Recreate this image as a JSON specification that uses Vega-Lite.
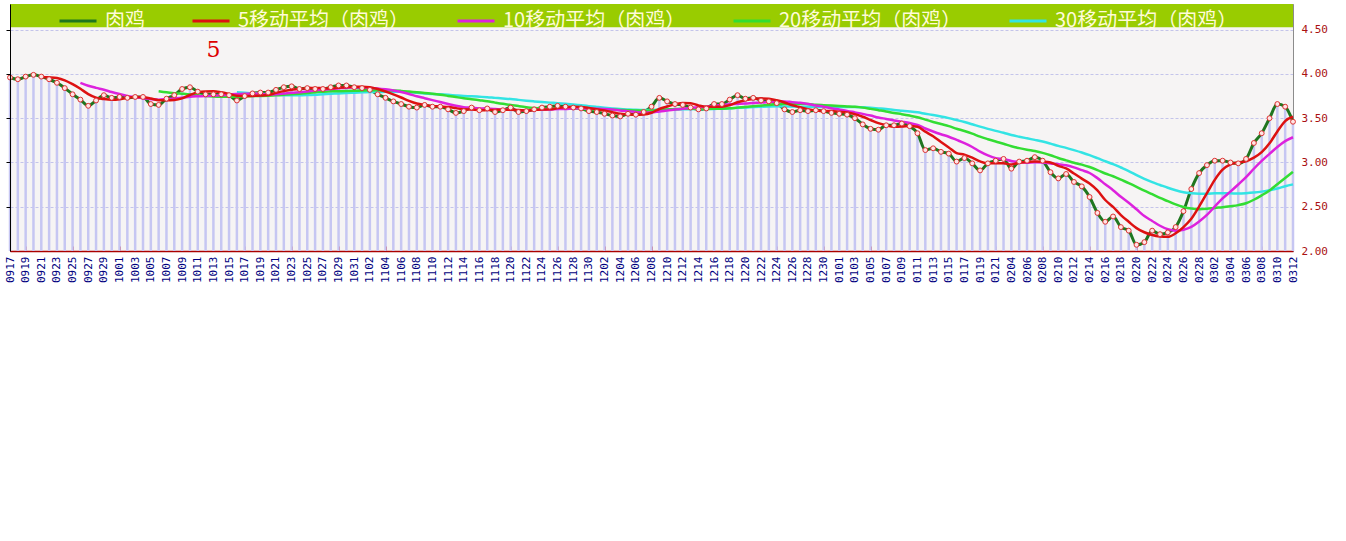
{
  "$schema": "https://vega.github.io/schema/vega-lite/v6.json",
  "width": 1283,
  "height": 247,
  "padding": {"left": 4, "top": 1, "right": 5, "bottom": 5},
  "background": "white",
  "datasets": {
    "s": [
      {"d":"0917","v":3.96},{"d":"0918","v":3.94},{"d":"0919","v":3.97},{"d":"0920","v":3.99},{"d":"0921","v":3.97},{"d":"0922","v":3.94},{"d":"0923","v":3.90},{"d":"0924","v":3.84},{"d":"0925","v":3.77},{"d":"0926","v":3.71},{"d":"0927","v":3.64},{"d":"0928","v":3.70},{"d":"0929","v":3.76},{"d":"0930","v":3.73},
      {"d":"1001","v":3.74},{"d":"1002","v":3.73},{"d":"1003","v":3.74},{"d":"1004","v":3.74},{"d":"1005","v":3.66},{"d":"1006","v":3.65},{"d":"1007","v":3.72},{"d":"1008","v":3.76},{"d":"1009","v":3.83},{"d":"1010","v":3.85},{"d":"1011","v":3.80},{"d":"1012","v":3.77},{"d":"1013","v":3.77},{"d":"1014","v":3.77},{"d":"1015","v":3.76},{"d":"1016","v":3.70},{"d":"1017","v":3.75},{"d":"1018","v":3.78},{"d":"1019","v":3.79},{"d":"1020","v":3.79},{"d":"1021","v":3.82},{"d":"1022","v":3.85},{"d":"1023","v":3.86},{"d":"1024","v":3.83},{"d":"1025","v":3.84},{"d":"1026","v":3.83},{"d":"1027","v":3.83},{"d":"1028","v":3.85},{"d":"1029","v":3.87},{"d":"1030","v":3.87},{"d":"1031","v":3.85},
      {"d":"1101","v":3.84},{"d":"1102","v":3.82},{"d":"1103","v":3.77},{"d":"1104","v":3.73},{"d":"1105","v":3.69},{"d":"1106","v":3.66},{"d":"1107","v":3.63},{"d":"1108","v":3.62},{"d":"1109","v":3.65},{"d":"1110","v":3.63},{"d":"1111","v":3.63},{"d":"1112","v":3.60},{"d":"1113","v":3.56},{"d":"1114","v":3.58},{"d":"1115","v":3.62},{"d":"1116","v":3.59},{"d":"1117","v":3.61},{"d":"1118","v":3.57},{"d":"1119","v":3.59},{"d":"1120","v":3.62},{"d":"1121","v":3.57},{"d":"1122","v":3.58},{"d":"1123","v":3.60},{"d":"1124","v":3.62},{"d":"1125","v":3.63},{"d":"1126","v":3.64},{"d":"1127","v":3.63},{"d":"1128","v":3.62},{"d":"1129","v":3.61},{"d":"1130","v":3.58},
      {"d":"1201","v":3.57},{"d":"1202","v":3.55},{"d":"1203","v":3.53},{"d":"1204","v":3.52},{"d":"1205","v":3.55},{"d":"1206","v":3.54},{"d":"1207","v":3.57},{"d":"1208","v":3.63},{"d":"1209","v":3.73},{"d":"1210","v":3.69},{"d":"1211","v":3.66},{"d":"1212","v":3.65},{"d":"1213","v":3.62},{"d":"1214","v":3.60},{"d":"1215","v":3.61},{"d":"1216","v":3.66},{"d":"1217","v":3.66},{"d":"1218","v":3.71},{"d":"1219","v":3.76},{"d":"1220","v":3.72},{"d":"1221","v":3.73},{"d":"1222","v":3.70},{"d":"1223","v":3.69},{"d":"1224","v":3.67},{"d":"1225","v":3.60},{"d":"1226","v":3.57},{"d":"1227","v":3.59},{"d":"1228","v":3.58},{"d":"1229","v":3.59},{"d":"1230","v":3.58},{"d":"1231","v":3.56},
      {"d":"0101","v":3.55},{"d":"0102","v":3.54},{"d":"0103","v":3.50},{"d":"0104","v":3.43},{"d":"0105","v":3.38},{"d":"0106","v":3.37},{"d":"0107","v":3.42},{"d":"0108","v":3.42},{"d":"0109","v":3.44},{"d":"0110","v":3.41},{"d":"0111","v":3.33},{"d":"0112","v":3.14},{"d":"0113","v":3.16},{"d":"0114","v":3.12},{"d":"0115","v":3.10},{"d":"0116","v":3.01},{"d":"0117","v":3.05},{"d":"0118","v":2.99},{"d":"0119","v":2.91},{"d":"0120","v":2.99},{"d":"0121","v":3.02},{"d":"0122","v":3.04},
      {"d":"0204","v":2.93},{"d":"0205","v":3.01},{"d":"0206","v":3.02},{"d":"0207","v":3.06},{"d":"0208","v":3.02},{"d":"0209","v":2.89},{"d":"0210","v":2.82},{"d":"0211","v":2.87},{"d":"0212","v":2.78},{"d":"0213","v":2.73},{"d":"0214","v":2.61},{"d":"0215","v":2.43},{"d":"0216","v":2.33},{"d":"0217","v":2.39},{"d":"0218","v":2.27},{"d":"0219","v":2.23},{"d":"0220","v":2.07},{"d":"0221","v":2.10},{"d":"0222","v":2.23},{"d":"0223","v":2.19},{"d":"0224","v":2.21},{"d":"0225","v":2.27},{"d":"0226","v":2.45},{"d":"0227","v":2.70},{"d":"0228","v":2.88},
      {"d":"0301","v":2.97},{"d":"0302","v":3.02},{"d":"0303","v":3.02},{"d":"0304","v":3.00},{"d":"0305","v":2.99},{"d":"0306","v":3.04},{"d":"0307","v":3.22},{"d":"0308","v":3.33},{"d":"0309","v":3.50},{"d":"0310","v":3.66},{"d":"0311","v":3.63},{"d":"0312","v":3.46}
    ]
  },
  "data": {"name": "s"},
  "config": {
    "view": {"fill": "#f6f4f4", "stroke": "#8c8c8c", "strokeWidth": 1},
    "axis": {"labelFont": "DejaVu Sans Mono", "labelFontSize": 11, "title": null},
    "axisX": {"labelAngle": -90, "labelFontSize": 11, "labelColor": "#000080", "labelOverlap": false, "labelPadding": 10, "domainColor": "#aa0000", "domainWidth": 1.5, "tickColor": "#cc0000", "tickSize": -5, "tickWidth": 1, "grid": false, "zindex": 1}
  },
  "resolve": {"axis": {"y": "independent"}},
  "layer": [
    {
      "mark": {"type": "rule", "color": "#c6c6f2", "strokeWidth": 2.5},
      "encoding": {
        "x": {
          "field": "d", "type": "ordinal",
          "scale": {"type": "point", "padding": 0, "domain": ["0917","0918","0919","0920","0921","0922","0923","0924","0925","0926","0927","0928","0929","0930","1001","1002","1003","1004","1005","1006","1007","1008","1009","1010","1011","1012","1013","1014","1015","1016","1017","1018","1019","1020","1021","1022","1023","1024","1025","1026","1027","1028","1029","1030","1031","1101","1102","1103","1104","1105","1106","1107","1108","1109","1110","1111","1112","1113","1114","1115","1116","1117","1118","1119","1120","1121","1122","1123","1124","1125","1126","1127","1128","1129","1130","1201","1202","1203","1204","1205","1206","1207","1208","1209","1210","1211","1212","1213","1214","1215","1216","1217","1218","1219","1220","1221","1222","1223","1224","1225","1226","1227","1228","1229","1230","1231","0101","0102","0103","0104","0105","0106","0107","0108","0109","0110","0111","0112","0113","0114","0115","0116","0117","0118","0119","0120","0121","0122","0204","0205","0206","0207","0208","0209","0210","0211","0212","0213","0214","0215","0216","0217","0218","0219","0220","0221","0222","0223","0224","0225","0226","0227","0228","0301","0302","0303","0304","0305","0306","0307","0308","0309","0310","0311","0312"]},
          "axis": {
            "values": ["0917","0919","0921","0923","0925","0927","0929","1001","1003","1005","1007","1009","1011","1013","1015","1017","1019","1021","1023","1025","1027","1029","1031","1102","1104","1106","1108","1110","1112","1114","1116","1118","1120","1122","1124","1126","1128","1130","1202","1204","1206","1208","1210","1212","1214","1216","1218","1220","1222","1224","1226","1228","1230","0101","0103","0105","0107","0109","0111","0113","0115","0117","0119","0121","0204","0206","0208","0210","0212","0214","0216","0218","0220","0222","0224","0226","0228","0302","0304","0306","0308","0310","0312"],
            "labelAngle": -90, "title": null
          }
        },
        "y": {
          "field": "v", "type": "quantitative",
          "scale": {"domain": [2, 4.79], "nice": false, "zero": false},
          "axis": {"orient": "left", "labels": false, "grid": false, "ticks": true, "tickSize": 4, "tickColor": "#000000", "domainColor": "#000000", "values": [2.5, 3, 3.5, 4, 4.5], "title": null, "zindex": 1}
        },
        "y2": {"datum": 2}
      }
    },
    {
      "data": {"values": [{}]},
      "mark": {"type": "rect", "color": "#99cc00"},
      "encoding": {
        "y": {"datum": 4.526, "type": "quantitative", "axis": null},
        "y2": {"datum": 4.79}
      }
    },
    {
      "mark": {"type": "line", "interpolate": "monotone", "strokeWidth": 3},
      "encoding": {
        "x": {"field": "d", "type": "ordinal", "axis": {"labelAngle": -90}},
        "y": {
          "field": "v", "type": "quantitative",
          "axis": {"orient": "right", "values": [2, 2.5, 3, 3.5, 4, 4.5], "format": ".2f", "labelColor": "#aa1111", "labelPadding": 8, "ticks": false, "domainColor": "#8c8c8c", "grid": true, "gridColor": "#c4c4ea", "gridDash": [3, 2], "title": null}
        },
        "color": {
          "datum": "肉鸡", "type": "nominal",
          "scale": {"domain": ["肉鸡", "5移动平均（肉鸡）", "10移动平均（肉鸡）", "20移动平均（肉鸡）", "30移动平均（肉鸡）"], "range": ["#1f761f", "#dd1111", "#dd22dd", "#33dd33", "#33e4e4"]},
          "legend": {
            "orient": "none", "legendX": 48, "legendY": -3, "direction": "horizontal", "title": null,
            "symbolType": "stroke", "symbolSize": 1369, "symbolStrokeWidth": 3,
            "labelFont": "Noto Sans CJK SC", "labelFontSize": 20, "labelColor": "#fffbd8", "labelLimit": 400,
            "labelOffset": 7, "columnPadding": 41, "padding": 0
          }
        }
      }
    },
    {
      "transform": [
        {"window": [{"op": "mean", "field": "v", "as": "ma"}, {"op": "count", "as": "n"}], "frame": [-29, 0]},
        {"filter": {"field": "n", "gte": 30}}
      ],
      "mark": {"type": "line", "interpolate": "monotone", "strokeWidth": 2.5},
      "encoding": {
        "x": {"field": "d", "type": "ordinal", "axis": {"labelAngle": -90}},
        "y": {"field": "ma", "type": "quantitative", "axis": null},
        "color": {"datum": "30移动平均（肉鸡）", "type": "nominal"}
      }
    },
    {
      "transform": [
        {"window": [{"op": "mean", "field": "v", "as": "ma"}, {"op": "count", "as": "n"}], "frame": [-19, 0]},
        {"filter": {"field": "n", "gte": 20}}
      ],
      "mark": {"type": "line", "interpolate": "monotone", "strokeWidth": 2.5},
      "encoding": {
        "x": {"field": "d", "type": "ordinal", "axis": {"labelAngle": -90}},
        "y": {"field": "ma", "type": "quantitative", "axis": null},
        "color": {"datum": "20移动平均（肉鸡）", "type": "nominal"}
      }
    },
    {
      "transform": [
        {"window": [{"op": "mean", "field": "v", "as": "ma"}, {"op": "count", "as": "n"}], "frame": [-9, 0]},
        {"filter": {"field": "n", "gte": 10}}
      ],
      "mark": {"type": "line", "interpolate": "monotone", "strokeWidth": 2.5},
      "encoding": {
        "x": {"field": "d", "type": "ordinal", "axis": {"labelAngle": -90}},
        "y": {"field": "ma", "type": "quantitative", "axis": null},
        "color": {"datum": "10移动平均（肉鸡）", "type": "nominal"}
      }
    },
    {
      "transform": [
        {"window": [{"op": "mean", "field": "v", "as": "ma"}, {"op": "count", "as": "n"}], "frame": [-4, 0]},
        {"filter": {"field": "n", "gte": 5}}
      ],
      "mark": {"type": "line", "interpolate": "monotone", "strokeWidth": 2.5},
      "encoding": {
        "x": {"field": "d", "type": "ordinal", "axis": {"labelAngle": -90}},
        "y": {"field": "ma", "type": "quantitative", "axis": null},
        "color": {"datum": "5移动平均（肉鸡）", "type": "nominal"}
      }
    },
    {
      "mark": {"type": "point", "shape": "circle", "filled": false, "fill": "#ffe4e4", "fillOpacity": 1, "stroke": "#dd3333", "strokeWidth": 1, "size": 24, "opacity": 1},
      "encoding": {
        "x": {"field": "d", "type": "ordinal", "axis": {"labelAngle": -90}},
        "y": {"field": "v", "type": "quantitative", "axis": null}
      }
    },
    {
      "data": {"values": [{"d": "1013", "v": 4.27, "t": "5"}]},
      "mark": {"type": "text", "font": "DejaVu Serif", "fontSize": 22, "color": "#dd0000", "align": "center", "baseline": "middle"},
      "encoding": {
        "x": {"field": "d", "type": "ordinal", "axis": {"labelAngle": -90}},
        "y": {"field": "v", "type": "quantitative", "axis": null},
        "text": {"field": "t"}
      }
    }
  ]
}
